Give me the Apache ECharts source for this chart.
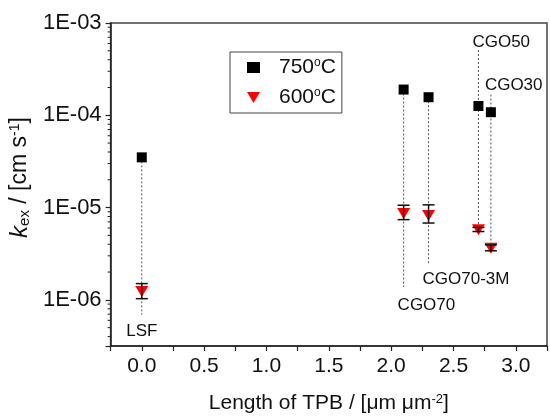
<!DOCTYPE html>
<html>
<head>
<meta charset="utf-8">
<script src="https://cdn.jsdelivr.net/npm/echarts@6/dist/echarts.min.js"></script>
<style>
  html, body { margin: 0; padding: 0; background: #fff; }
  #chart { width: 550px; height: 419px; }
</style>
</head>
<body>
<div id="chart"></div>
<script>
// samples and their triple phase boundary length (x)
const samples = ['LSF', 'CGO70', 'CGO70-3M', 'CGO50', 'CGO30'];
const tpbLength = [0, 2.1, 2.3, 2.7, 2.8];

// k_ex values [cm s-1]
const k750 = [3.5e-5, 1.9e-4, 1.57e-4, 1.26e-4, 1.08e-4];
const k600 = [1.23e-6, 8.6e-6, 8.2e-6, 5.75e-6, 3.63e-6];
const k600High = [1.5e-6, 1.06e-5, 1.07e-5, 6.1e-6, 3.95e-6];
const k600Low = [1.03e-6, 7.4e-6, 6.8e-6, 5.5e-6, 3.4e-6];

// dotted guide lines and sample name heights (data units)
const guideTop = [3.5e-5, 1.9e-4, 1.57e-4, 5.1e-4, 1.68e-4];
const guideBottom = [6.9e-7, 1.38e-6, 2.38e-6, 5.75e-6, 3.63e-6];
const nameHeight = [4.6e-7, 8.8e-7, 1.68e-6, 6.1e-4, 2.1e-4];

// axis ranges and minor log ticks
const xMin = -0.25, xMax = 3.25;
const yMin = Math.pow(10, -6.5), yMax = 1e-3;
const minorMantissa = [2, 3, 4, 5, 6, 7, 8, 9];
const minorDecades = [1e-7, 1e-6, 1e-5, 1e-4];

const minorTicks = [];
minorDecades.forEach(d => minorMantissa.forEach(m => {
    const v = m * d;
    if (v > yMin && v < yMax) minorTicks.push([xMin, v]);
}));

const font = 'Arial, "Liberation Sans", sans-serif';

const chart = echarts.init(document.getElementById('chart'));

function guideRender(params, api) {
    const a = api.coord([api.value(0), api.value(1)]);
    const b = api.coord([api.value(0), api.value(2)]);
    return {
        type: 'line',
        shape: { x1: a[0], y1: a[1], x2: b[0], y2: b[1] },
        style: { stroke: '#555', lineWidth: 1, lineDash: [2, 2] }
    };
}

function errorRender(params, api) {
    const hi = api.coord([api.value(0), api.value(1)]);
    const lo = api.coord([api.value(0), api.value(2)]);
    const w = 6;
    const st = { stroke: '#111', lineWidth: 1.5 };
    return {
        type: 'group',
        children: [
            { type: 'line', shape: { x1: hi[0], y1: hi[1], x2: lo[0], y2: lo[1] }, style: st },
            { type: 'line', shape: { x1: hi[0] - w, y1: hi[1], x2: hi[0] + w, y2: hi[1] }, style: st },
            { type: 'line', shape: { x1: lo[0] - w, y1: lo[1], x2: lo[0] + w, y2: lo[1] }, style: st }
        ]
    };
}

function nameRender(params, api) {
    const p = api.coord([api.value(0), api.value(1)]);
    const first = params.dataIndex === 0;
    return {
        type: 'text',
        x: first ? p[0] : p[0] - 6,
        y: p[1],
        style: {
            text: samples[params.dataIndex],
            fill: '#111',
            font: '17px ' + font,
            align: first ? 'center' : 'left',
            verticalAlign: 'middle'
        }
    };
}

function minorRender(params, api) {
    const p = api.coord([api.value(0), api.value(1)]);
    return {
        type: 'line',
        shape: { x1: p[0], y1: p[1], x2: p[0] - 3, y2: p[1] },
        style: { stroke: '#222', lineWidth: 1 }
    };
}

const option = {
    animation: false,
    backgroundColor: '#fff',
    grid: {
        left: 109, right: 2, top: 23, bottom: 71,
        show: true, borderColor: '#444', borderWidth: 1.5
    },
    legend: {
        orient: 'vertical',
        left: 230, top: 52,
        itemWidth: 13, itemHeight: 11, itemGap: 9,
        padding: [5, 6, 5, 17],
        borderColor: '#444', borderWidth: 1,
        textStyle: {
            fontFamily: font, fontSize: 21, color: '#111',
            padding: [0, 0, 0, 14],
            rich: { sup: { fontSize: 12, verticalAlign: 'top' } }
        },
        formatter: name => name.replace('°', '{sup|o}'),
        data: [
            { name: '750°C', icon: 'rect' },
            { name: '600°C', icon: 'path://M0,0L12,0L6,10Z' }
        ]
    },
    xAxis: {
        type: 'value',
        min: xMin, max: xMax, interval: 0.25,
        name: 'Length of TPB / [μm μm{sup|-2}]',
        nameLocation: 'middle', nameGap: 47,
        nameTextStyle: {
            fontFamily: font, fontSize: 21, color: '#111',
            rich: { sup: { fontSize: 13, verticalAlign: 'top' } }
        },
        axisLine: { onZero: false, lineStyle: { color: '#222', width: 1.5 } },
        axisTick: { inside: false, length: 5, lineStyle: { color: '#222', width: 1.2 } },
        axisLabel: {
            fontFamily: font, fontSize: 21, color: '#111', margin: 10,
            formatter: v => (Math.abs(v * 2 - Math.round(v * 2)) < 1e-6 && v >= 0 && v <= 3) ? v.toFixed(1) : ''
        },
        splitLine: { show: false }
    },
    yAxis: {
        type: 'log', logBase: 10,
        min: yMin, max: yMax,
        name: '{k|k}{sub|ex} / [cm s{sup|-1}]',
        nameLocation: 'middle', nameGap: 76, nameRotate: 90,
        nameTextStyle: {
            fontFamily: font, fontSize: 23, color: '#111',
            padding: [0, 0, 0, 14],
            rich: {
                k: { fontStyle: 'italic', fontSize: 24 },
                sub: { fontSize: 15, verticalAlign: 'bottom' },
                sup: { fontSize: 14, verticalAlign: 'top' }
            }
        },
        axisLine: { show: true, onZero: false, lineStyle: { color: '#222', width: 1.5 } },
        axisTick: { show: true, inside: false, length: 5, lineStyle: { color: '#222', width: 1.2 } },
        axisLabel: {
            fontFamily: font, fontSize: 22, color: '#111', margin: 9,
            formatter: v => {
                const e = Math.log10(v);
                const r = Math.round(e);
                if (Math.abs(e - r) > 1e-6) return '';
                return '1E-' + String(-r).padStart(2, '0');
            }
        },
        splitLine: { show: false }
    },
    series: [
        {
            type: 'custom', name: 'minorTicks', silent: true, clip: false,
            renderItem: minorRender,
            data: minorTicks, z: 1
        },
        {
            type: 'custom', name: 'guides', silent: true,
            renderItem: guideRender,
            data: tpbLength.map((x, i) => [x, guideTop[i], guideBottom[i]]), z: 2
        },
        {
            type: 'custom', name: 'names', silent: true, clip: false,
            renderItem: nameRender,
            data: tpbLength.map((x, i) => [x, nameHeight[i]]), z: 3
        },
        {
            name: '750°C', type: 'scatter',
            symbol: 'rect', symbolSize: 10,
            itemStyle: { color: '#000', opacity: 1 },
            data: tpbLength.map((x, i) => [x, k750[i]]), z: 4
        },
        {
            name: '600°C', type: 'scatter',
            symbol: 'path://M0,0L12,0L6,10Z', symbolSize: [13, 11],
            itemStyle: { color: '#ff0000', opacity: 1 },
            data: tpbLength.map((x, i) => [x, k600[i]]), z: 4
        },
        {
            type: 'custom', name: 'errors', silent: true,
            renderItem: errorRender,
            data: tpbLength.map((x, i) => [x, k600High[i], k600Low[i]]), z: 5
        }
    ]
};

chart.setOption(option);
</script>
</body>
</html>
